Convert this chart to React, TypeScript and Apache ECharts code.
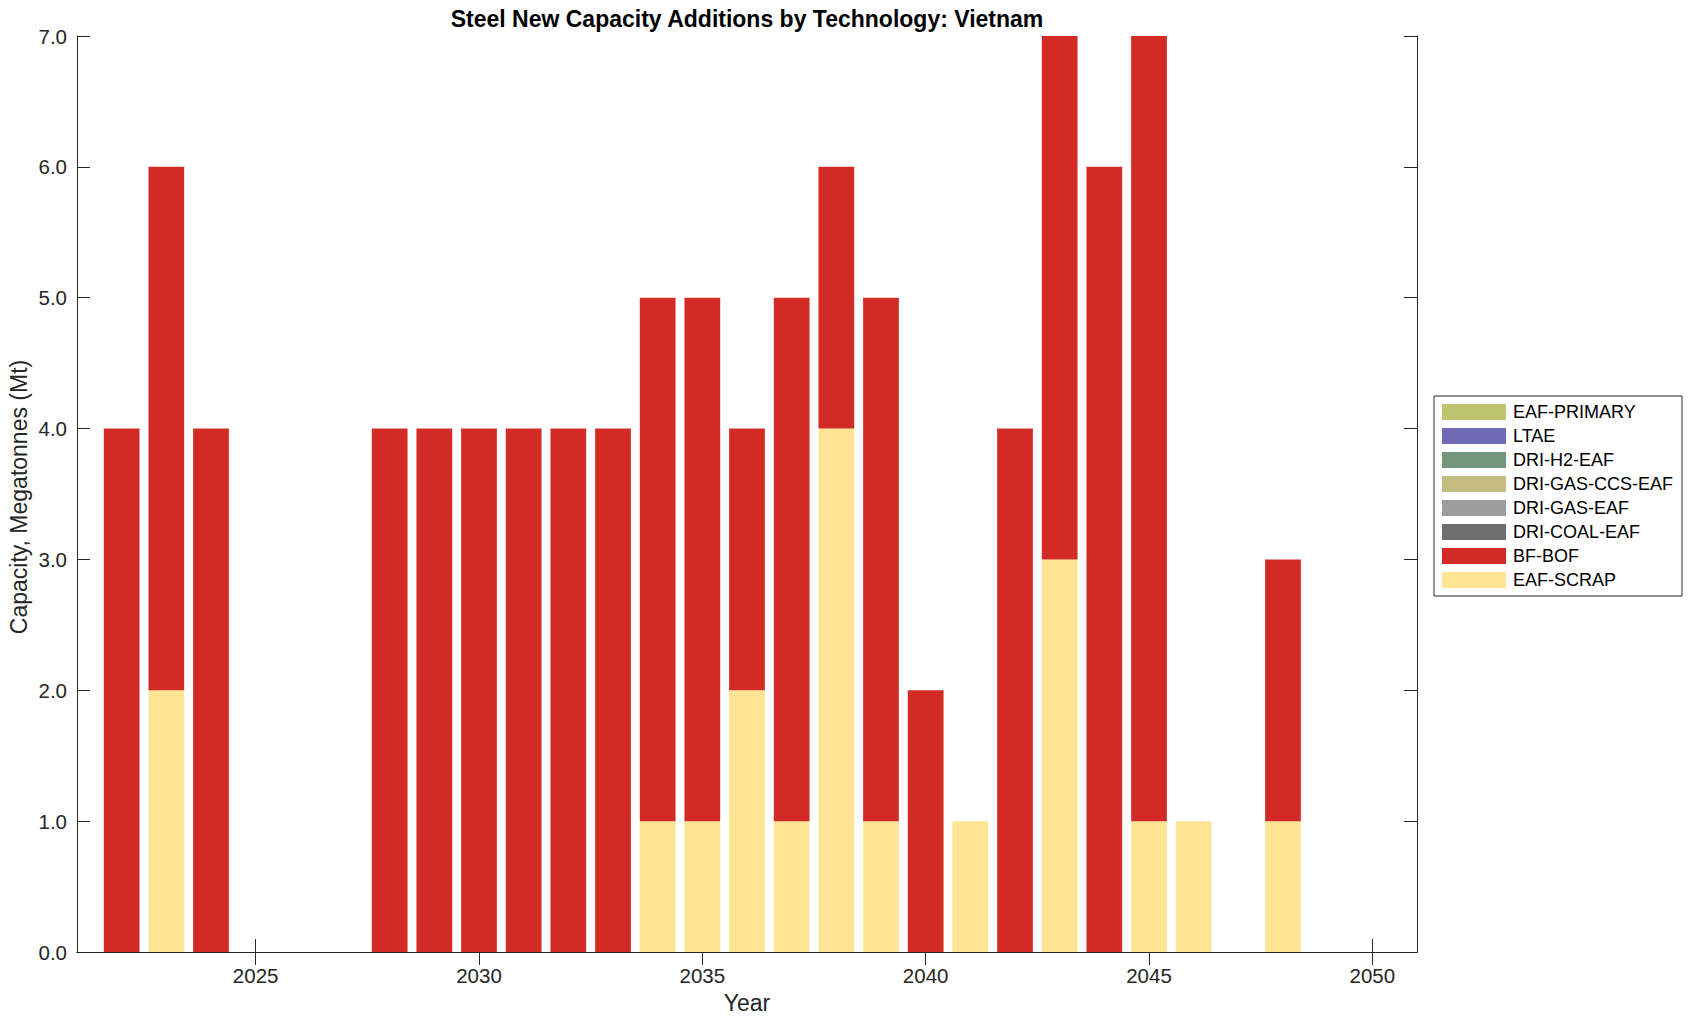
import React, { useEffect, useRef } from "react";
import * as echarts from "echarts";

const years: string[] = [];
for (let y = 2021; y <= 2051; y++) years.push(String(y));

const barYears = [2022, 2023, 2024, 2028, 2029, 2030, 2031, 2032, 2033, 2034, 2035, 2036, 2037, 2038, 2039, 2040, 2041, 2042, 2043, 2044, 2045, 2046, 2048];
const bfBof =    [4, 4, 4, 4, 4, 4, 4, 4, 4, 4, 4, 2, 4, 2, 4, 2, 0, 4, 5, 6, 7, 0, 2];
const eafScrap = [0, 2, 0, 0, 0, 0, 0, 0, 0, 1, 1, 2, 1, 4, 1, 0, 1, 0, 3, 0, 1, 1, 1];

const techNames = ["EAF-PRIMARY", "LTAE", "DRI-H2-EAF", "DRI-GAS-CCS-EAF", "DRI-GAS-EAF", "DRI-COAL-EAF", "BF-BOF", "EAF-SCRAP"];
const techColors = ["#bec46b", "#7268b8", "#74967b", "#c4bb7e", "#9d9d9d", "#6f6f6f", "#d22b26", "#fee493"];

function seriesValues(name: string): number[] {
  const out = years.map(() => 0);
  barYears.forEach((yr, i) => {
    const idx = years.indexOf(String(yr));
    if (name === "BF-BOF") out[idx] = bfBof[i];
    else if (name === "EAF-SCRAP") out[idx] = eafScrap[i];
  });
  return out;
}

const FONT = "'Liberation Sans', Arial, Helvetica, sans-serif";
const AX = "#262626";

export default function App() {
  const ref = useRef<HTMLDivElement>(null);
  useEffect(() => {
    document.body.style.margin = "0";
    const chart = echarts.init(ref.current!, null, { renderer: "svg" });
    const tickInt = (_i: number, v: string) => Number(v) % 5 === 0;
    const stackOrder = [...techNames].reverse();
    const series = stackOrder.map((name) => ({
      name,
      type: "bar",
      stack: "total",
      barWidth: "80%",
      clip: true,
      data: seriesValues(name),
      itemStyle: { color: techColors[techNames.indexOf(name)] },
      emphasis: { disabled: true },
    }));
    chart.setOption({
      animation: false,
      backgroundColor: "#ffffff",
      textStyle: { fontFamily: FONT },
      grid: { left: 77, top: 36, width: 1340, height: 916, containLabel: false },
      title: {
        text: "Steel New Capacity Additions by Technology: Vietnam",
        left: 742,
        top: 2,
        textAlign: "center",
        textStyle: { fontFamily: FONT, fontSize: 23, fontWeight: "bold", color: "#000" },
      },
      legend: {
        orient: "vertical",
        left: 1434,
        top: 396,
        data: techNames,
        icon: "rect",
        itemWidth: 64,
        itemHeight: 16,
        itemGap: 6,
        padding: [7, 9, 7, 8],
        borderColor: AX,
        borderWidth: 1,
        backgroundColor: "#fff",
        selectedMode: false,
        textStyle: { fontFamily: FONT, fontSize: 18, color: "#000", padding: [0, 0, 0, 2] },
      },
      xAxis: [
        {
          type: "category",
          data: years,
          boundaryGap: false,
          position: "bottom",
          axisLine: { show: true, lineStyle: { color: AX, width: 1 } },
          axisTick: { show: true, inside: true, length: 13, interval: tickInt, lineStyle: { color: AX } },
          axisLabel: { show: true, interval: tickInt, margin: 13, fontSize: 20.5, color: AX, fontFamily: FONT },
          splitLine: { show: false },
        },
        {
          type: "category",
          data: years,
          boundaryGap: false,
          position: "top",
          axisLine: { show: true, lineStyle: { color: AX, width: 1 } },
          axisTick: { show: true, inside: true, length: 13, interval: tickInt, lineStyle: { color: AX } },
          axisLabel: { show: false },
          splitLine: { show: false },
        },
      ],
      yAxis: [
        {
          type: "value",
          min: 0,
          max: 7,
          interval: 1,
          position: "left",
          axisLine: { show: true, lineStyle: { color: AX, width: 1 } },
          axisTick: { show: true, inside: true, length: 13, lineStyle: { color: AX } },
          axisLabel: { margin: 10, fontSize: 20.5, color: AX, fontFamily: FONT, formatter: (v: number) => v.toFixed(1) },
          splitLine: { show: false },
        },
        {
          type: "value",
          min: 0,
          max: 7,
          interval: 1,
          position: "right",
          axisLine: { show: true, lineStyle: { color: AX, width: 1 } },
          axisTick: { show: true, inside: true, length: 13, lineStyle: { color: AX } },
          axisLabel: { show: false },
          splitLine: { show: false },
        },
      ],
      graphic: [
        {
          type: "text",
          x: 747,
          y: 1003,
          style: { text: "Year", fontFamily: FONT, fontSize: 23, fill: AX, align: "center", verticalAlign: "middle" },
        },
        {
          type: "text",
          x: 19,
          y: 497,
          rotation: Math.PI / 2,
          style: { text: "Capacity, Megatonnes (Mt)", fontFamily: FONT, fontSize: 23, fill: AX, align: "center", verticalAlign: "middle" },
        },
      ],
      series,
    });
    return () => chart.dispose();
  }, []);
  return <div ref={ref} style={{ width: 1696, height: 1021 }} />;
}
